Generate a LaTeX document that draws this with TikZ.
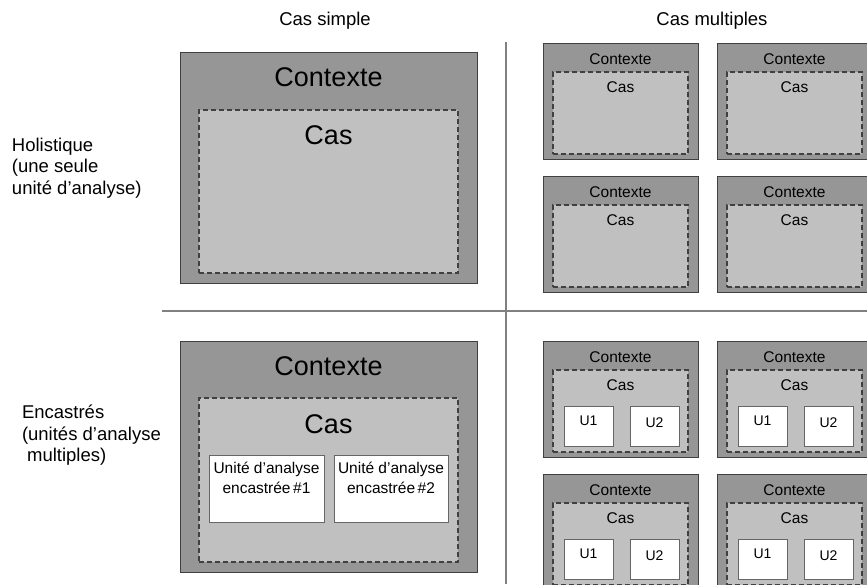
\documentclass[tikz,border=0pt]{standalone}
\usepackage{fontspec}
\setmainfont{Liberation Sans}
\definecolor{ctxfill}{HTML}{969696}
\definecolor{casfill}{HTML}{C0C0C0}
\definecolor{edge}{HTML}{404040}
\definecolor{divider}{HTML}{808080}
\tikzset{
  ctxbox/.style={draw=edge, fill=ctxfill, line width=1, inner sep=0, outer sep=0},
  casbox/.style={draw=edge, fill=casfill, line width=1.1, dash pattern=on 5 off 3, inner sep=0, outer sep=0},
  ubox/.style={draw=edge!80, fill=white, line width=1, inner sep=0, outer sep=0},
  txt/.style={inner sep=0, outer sep=0, anchor=base, text=black},
  hdr/.style={txt, font=\fontsize{18.5}{21.5}\selectfont},
  side/.style={inner sep=0, outer sep=0, anchor=north west, align=left, text=black, font=\fontsize{18.5}{21.5}\selectfont},
  bigtxt/.style={txt, font=\fontsize{27}{30}\selectfont},
  smalltxt/.style={txt, font=\fontsize{15.5}{20}\selectfont},
  utxt/.style={txt, font=\fontsize{14}{16}\selectfont},
  divline/.style={draw=divider, line width=1.5},
}
\newcommand\multbox[4]{%
  \node[ctxbox, anchor=north west, minimum width=155, minimum height=116] (#1) at (#2,#3) {};
  \node[casbox, anchor=north west, minimum width=135, minimum height=82] (#1c) at ({#2+10},{#3+29}) {};
  \node[smalltxt] (#1ct) at ({#2+77.5},{#3+21}) {Contexte};
  \node[smalltxt] (#1cs) at ({#2+77.5},{#3+49}) {Cas};
  \ifnum#4=1
    \node[ubox, anchor=north west, minimum width=49, minimum height=40] (#1u1) at ({#2+21},{#3+65}) {};
    \node[ubox, anchor=north west, minimum width=49, minimum height=40] (#1u2) at ({#2+87},{#3+65}) {};
    \node[utxt] (#1u1t) at ({#2+45.5},{#3+84}) {U1};
    \node[utxt] (#1u2t) at ({#2+111.5},{#3+86}) {U2};
  \fi
}
\begin{document}
\begin{tikzpicture}[x=1pt,y=-1pt]
\clip (0,0) rectangle (867,584);
\fill[white] (0,0) rectangle (867,584);

% headers
\node[hdr] (h1) at (325,25) {Cas simple};
\node[hdr] (h2) at (712,25) {Cas multiples};

% side labels
\node[side] (s1) at (12,138) {Holistique\\(une seule\\unité d’analyse)};
\node[side] (s2) at (22,405) {Encastrés\\(unités d’analyse\\\ multiples)};

% dividers
\coordinate (vtop) at (506,42);
\coordinate (vbot) at (506,584);
\coordinate (hl) at (162,311);
\coordinate (hr) at (867,311);
\draw[divline] (vtop) -- (vbot);
\draw[divline] (hl) -- (hr);

% simple holistic
\node[ctxbox, anchor=north west, minimum width=297, minimum height=231] (sh) at (180,52) {};
\node[casbox, anchor=north west, minimum width=259, minimum height=163] (shc) at (199,110) {};
\node[bigtxt] (sht) at (328.5,86.5) {Contexte};
\node[bigtxt] (shs) at (328.5,144) {Cas};

% simple embedded
\node[ctxbox, anchor=north west, minimum width=297, minimum height=231] (se) at (180,341) {};
\node[casbox, anchor=north west, minimum width=259, minimum height=164] (sec) at (199,398) {};
\node[bigtxt] (set) at (328.5,375) {Contexte};
\node[bigtxt] (ses) at (328.5,433) {Cas};
\node[ubox, anchor=north west, minimum width=115, minimum height=67] (seu1) at (209,455) {};
\node[ubox, anchor=north west, minimum width=114, minimum height=67] (seu2) at (334,455) {};
\node[smalltxt, align=center, anchor=north] (seu1t) at (266.5,462) {Unité d’analyse\\encastrée\,\#1};
\node[smalltxt, align=center, anchor=north] (seu2t) at (391,462) {Unité d’analyse\\encastrée\,\#2};

% multiple holistic
\multbox{ma}{543}{43}{0}
\multbox{mb}{717}{43}{0}
\multbox{mc}{543}{176}{0}
\multbox{md}{717}{176}{0}

% multiple embedded
\multbox{me}{543}{341}{1}
\multbox{mf}{717}{341}{1}
\multbox{mg}{543}{474}{1}
\multbox{mh}{717}{474}{1}
\end{tikzpicture}
\end{document}
